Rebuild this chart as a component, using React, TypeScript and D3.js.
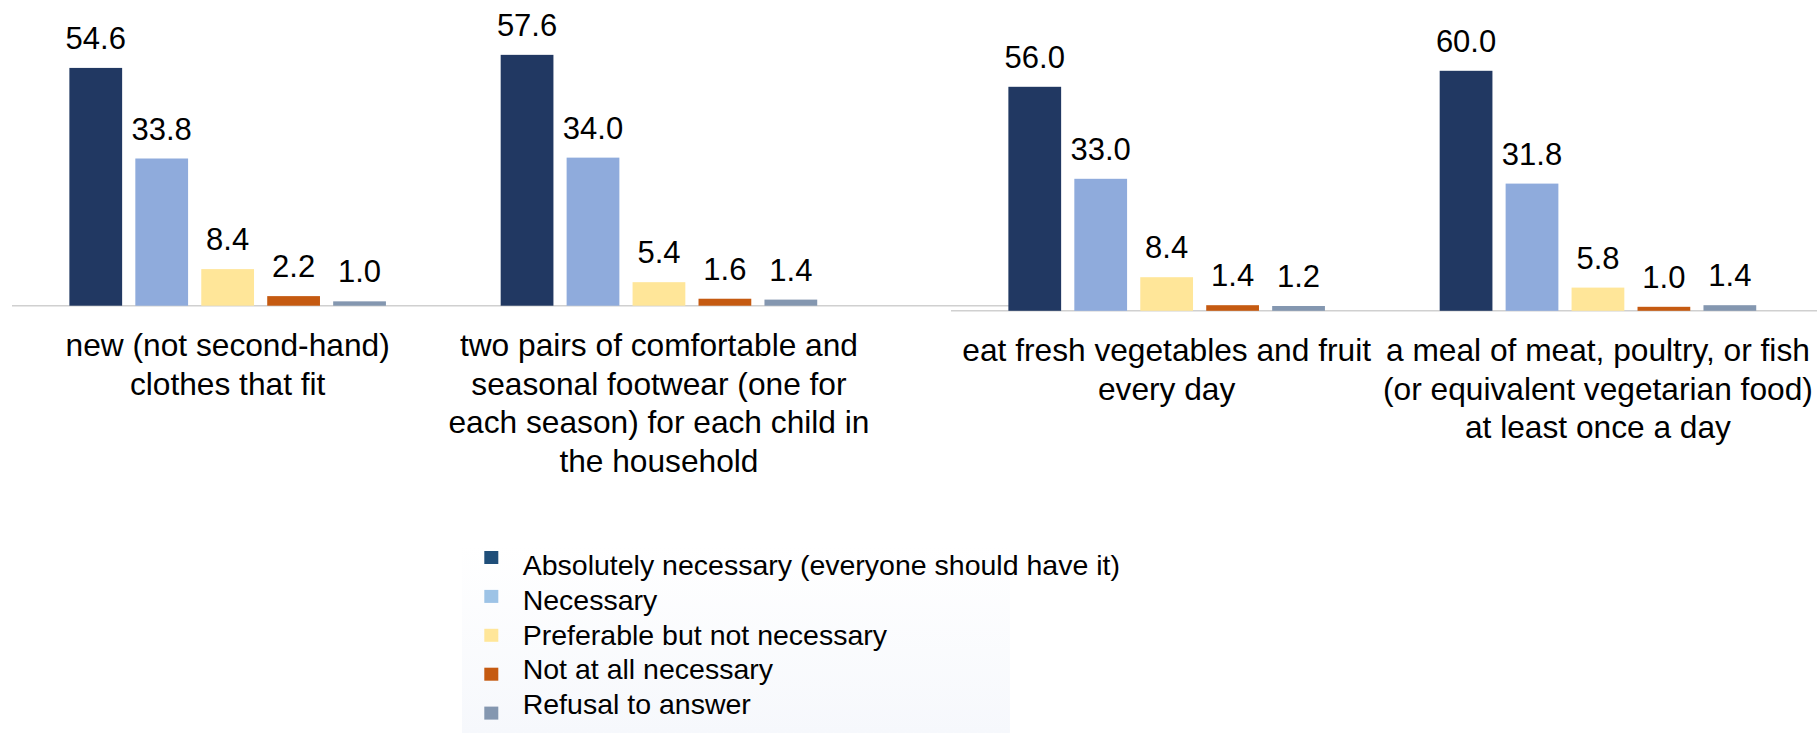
import React from "react";
import * as d3 from "d3";

const seriesNames = [
  "Absolutely necessary (everyone should have it)",
  "Necessary",
  "Preferable but not necessary",
  "Not at all necessary",
  "Refusal to answer",
];
const barColors = ["#213862", "#8FABDC", "#FFE699", "#C55A11", "#8497B0"];
const legendColors = ["#1F4E79", "#9DC3E6", "#FFE699", "#C55A11", "#8497B0"];

const leftCategories = ["clothes", "footwear"];
const leftLabelLines = [
  ["new (not second-hand)", "clothes that fit"],
  ["two pairs of comfortable and", "seasonal footwear (one for", "each season) for each child in", "the household"],
];
const leftValues = [
  [54.6, 33.8, 8.4, 2.2, 1.0],
  [57.6, 34.0, 5.4, 1.6, 1.4],
];

const rightCategories = ["vegetables", "meat"];
const rightLabelLines = [
  ["eat fresh vegetables and fruit", "every day"],
  ["a meal of meat, poultry, or fish", "(or equivalent vegetarian food)", "at least once a day"],
];
const rightValues = [
  [56.0, 33.0, 8.4, 1.4, 1.2],
  [60.0, 31.8, 5.8, 1.0, 1.4],
];

const FONT = "'Liberation Sans', Arial, Helvetica, sans-serif";

type PanelProps = {
  originX: number;
  baseline: number;
  pxPerUnit: number;
  categories: string[];
  labelLines: string[][];
  values: number[][];
  axisWidth: number;
};

function Panel({ originX, baseline, pxPerUnit, categories, labelLines, values, axisWidth }: PanelProps) {
  const bandW = 431.3;
  const x0 = d3.scaleBand<string>().domain(categories).range([originX, originX + bandW * categories.length]);
  const x1 = d3
    .scaleBand<string>()
    .domain(seriesNames)
    .range([0, x0.bandwidth()])
    .paddingInner(0.2)
    .paddingOuter(0.87);
  const y = d3.scaleLinear().domain([0, 70]).range([baseline, baseline - 70 * pxPerUnit]);

  return (
    <g>
      <line x1={originX} x2={originX + axisWidth} y1={baseline} y2={baseline} stroke="#D0D0D0" strokeWidth={1.6} />
      {categories.map((c, ci) => (
        <g key={c}>
          {values[ci].map((v, si) => {
            const bx = (x0(c) as number) + (x1(seriesNames[si]) as number);
            return (
              <g key={si}>
                <rect x={bx} y={y(v)} width={x1.bandwidth()} height={y(0) - y(v)} fill={barColors[si]} />
                <text
                  x={bx + x1.bandwidth() / 2}
                  y={y(v) - 19}
                  textAnchor="middle"
                  fontSize={31}
                  fontFamily={FONT}
                  fill="#000"
                >
                  {v.toFixed(1)}
                </text>
              </g>
            );
          })}
          <text
            x={(x0(c) as number) + x0.bandwidth() / 2}
            y={baseline + 50.3}
            textAnchor="middle"
            fontSize={31.7}
            fontFamily={FONT}
            fill="#000"
          >
            {labelLines[ci].map((ln, li) => (
              <tspan key={li} x={(x0(c) as number) + x0.bandwidth() / 2} dy={li === 0 ? 0 : 38.6}>
                {ln}
              </tspan>
            ))}
          </text>
        </g>
      ))}
    </g>
  );
}

export default function App() {
  return (
    <svg
      width={1817}
      height={733}
      style={{ position: "absolute", left: 0, top: 0, background: "#fff" }}
      xmlns="http://www.w3.org/2000/svg"
    >
      <defs>
        <linearGradient id="lgbg" x1="0" y1="0" x2="0" y2="1">
          <stop offset="0" stopColor="#FFFFFF" />
          <stop offset="1" stopColor="#F6F8FC" />
        </linearGradient>
      </defs>
      <rect x={0} y={0} width={1817} height={733} fill="#fff" />
      <rect x={462} y={545} width={548} height={188} fill="url(#lgbg)" />
      <Panel
        originX={12}
        baseline={305.7}
        pxPerUnit={4.355}
        categories={leftCategories}
        labelLines={leftLabelLines}
        values={leftValues}
        axisWidth={1008}
      />
      <Panel
        originX={951}
        baseline={310.8}
        pxPerUnit={4.0}
        categories={rightCategories}
        labelLines={rightLabelLines}
        values={rightValues}
        axisWidth={1008}
      />
      <g>
        {seriesNames.map((s, i) => (
          <g key={s}>
            <rect x={484.3} y={551 + i * 38.9} width={14} height={13} fill={legendColors[i]} />
            <text x={522.7} y={575 + i * 34.8} fontSize={28.5} fontFamily={FONT} fill="#000">
              {s}
            </text>
          </g>
        ))}
      </g>
    </svg>
  );
}
